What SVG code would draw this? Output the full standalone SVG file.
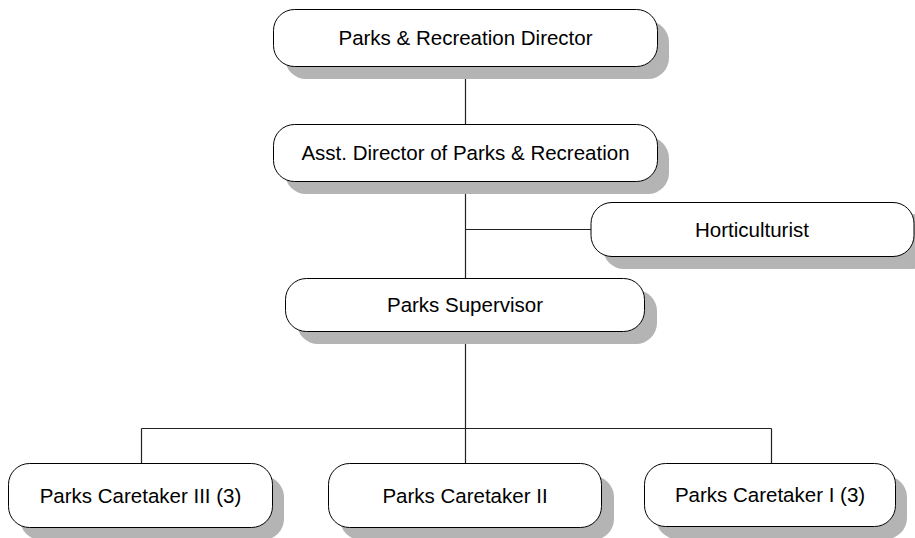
<svg xmlns="http://www.w3.org/2000/svg" width="915" height="538" viewBox="0 0 915 538">
<style>
.sh{fill:#b4b4b4;stroke:none}
.bx{fill:#fff;stroke:#000;stroke-width:1}
.t{font-family:"Liberation Sans",Arial,sans-serif;font-size:20.5px;fill:#000;text-anchor:middle}
.c{fill:none;stroke:#222;stroke-width:1.2}
</style>
<rect width="915" height="538" fill="#fff"/>
<g id="connectors">
<path class="c" d="M465.5 67V125M465.5 182V278M465.5 229.5H591M465.5 332V428.5M141.5 428.5H771.5M141.5 428.5V464M465.5 428.5V464M771.5 428.5V464"/>
</g>
<g id="director">
<rect class="sh" x="285" y="21" width="384" height="58" rx="21"/>
<rect class="bx" x="273.5" y="9.5" width="384" height="57" rx="21"/>
<text class="t" x="465.5" y="45">Parks &amp; Recreation Director</text>
</g>
<g id="asst-director">
<rect class="sh" x="285" y="137" width="384" height="57" rx="21"/>
<rect class="bx" x="273.5" y="124.5" width="384" height="57" rx="21"/>
<text class="t" x="465.5" y="160">Asst. Director of Parks &amp; Recreation</text>
</g>
<g id="horticulturist">
<rect class="sh" x="603" y="214" width="330" height="55" rx="21"/>
<rect class="bx" x="591" y="202.5" width="323" height="54" rx="21"/>
<text class="t" x="752" y="237">Horticulturist</text>
</g>
<g id="supervisor">
<rect class="sh" x="297" y="290" width="360" height="54" rx="21"/>
<rect class="bx" x="285.5" y="278.5" width="359" height="53" rx="21"/>
<text class="t" x="465" y="312">Parks Supervisor</text>
</g>
<g id="caretaker-3">
<rect class="sh" x="20" y="476" width="264" height="64" rx="21"/>
<rect class="bx" x="8.5" y="463.5" width="264" height="64" rx="21"/>
<text class="t" x="140.5" y="503">Parks Caretaker III (3)</text>
</g>
<g id="caretaker-2">
<rect class="sh" x="340" y="476" width="274" height="64" rx="21"/>
<rect class="bx" x="328.5" y="463.5" width="273" height="64" rx="21"/>
<text class="t" x="465" y="503">Parks Caretaker II</text>
</g>
<g id="caretaker-1">
<rect class="sh" x="656" y="476" width="251" height="63" rx="21"/>
<rect class="bx" x="644.5" y="463.5" width="251" height="63" rx="21"/>
<text class="t" x="770" y="502">Parks Caretaker I (3)</text>
</g>
</svg>
